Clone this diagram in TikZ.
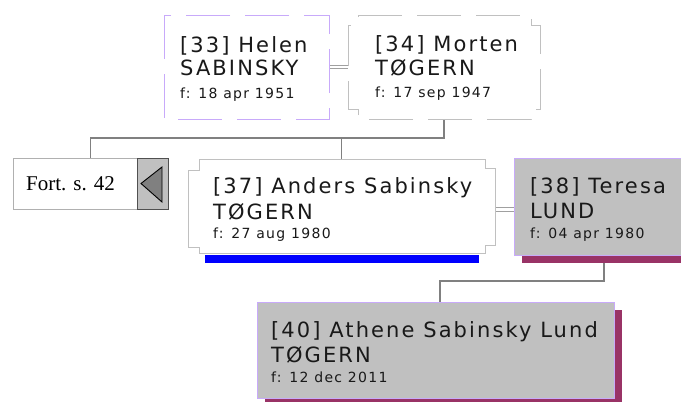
\documentclass[tikz,border=0pt]{standalone}
\usepackage{fontspec}
\setmainfont{Liberation Serif}
\newfontfamily\boxfont[LetterSpace=10]{DejaVu Sans}
\newfontfamily\smallfont[LetterSpace=9.5]{DejaVu Sans}
\usetikzlibrary{calc}
\definecolor{lav}{RGB}{200,170,250}
\definecolor{lgray}{RGB}{192,192,192}
\definecolor{gfill}{RGB}{192,192,192}
\definecolor{connc}{RGB}{128,128,128}
\definecolor{dblc}{RGB}{160,160,160}
\definecolor{maroon}{RGB}{153,51,102}
\definecolor{fortb}{RGB}{176,176,176}
\definecolor{darkb}{RGB}{80,80,80}
\definecolor{tri}{RGB}{128,128,128}
\definecolor{txt}{RGB}{25,25,25}
\begin{document}
\begin{tikzpicture}[x=1pt,y=-1pt,
  boxn/.style={rectangle,inner sep=0pt,outer sep=0pt,anchor=north west},
  bigt/.style={anchor=base west,inner sep=0pt,font=\fontsize{21}{22}\boxfont,text=txt},
  smallt/.style={anchor=base west,inner sep=0pt,font=\fontsize{14}{15}\smallfont,text=txt},
  conn/.style={draw=connc,line width=1.3pt},
  dbl/.style={draw=dblc,double=white,double distance=2.6pt,line width=1.1pt},
  dashbox/.style={line width=1pt,dash pattern=on 44pt off 15pt,fill=white}
]
\useasboundingbox (0,0) rectangle (681,402);
\clip (0,0) rectangle (681,402);
% box placeholders
\node[boxn,minimum width=165pt,minimum height=104pt] (b33) at (164,15) {};
\node[boxn,minimum width=192pt,minimum height=104pt] (b34) at (348,15) {};
\node[boxn,minimum width=307pt,minimum height=94pt] (b37) at (188,159) {};
\node[boxn,minimum width=180pt,minimum height=97pt] (b38) at (514,158) {};
\node[boxn,minimum width=357pt,minimum height=96pt] (b40) at (257,302) {};
\node[boxn,minimum width=155pt,minimum height=51pt] (fort) at (13,158) {};
\node[boxn,minimum width=31pt,minimum height=51pt] (arr) at (137,158) {};
\coordinate (c40) at ($(b40.north west)+(183,0)$);
\coordinate (j1) at ($(b34.south)+(0,19)$);
\coordinate (j2) at ($(b38.south)+(0,26)$);
% connectors
\draw[conn] (b34.south) -- (j1) -| (fort.north);
\draw[conn] (j1 -| b37.north) -- (b37.north);
\draw[conn] (b38.south) -- (j2) -| (c40);
\draw[dbl] (b33.east) -- (b34.west);
\draw[dbl] ($(b37.east)+(0,3.5)$) -- ($(b38.west)+(0,3)$);
% shadows and bars
\fill[maroon] ($(b38.north west)+(8,8)$) rectangle ($(b38.south east)+(8,8)$);
\fill[maroon] ($(b40.north west)+(8,8)$) rectangle ($(b40.south east)+(8,8)$);
\fill[blue] ($(b37.south west)+(17,2)$) rectangle ($(b37.south east)+(-16,10)$);
% boxes
\draw[lav,dashbox] (b33.north west) rectangle (b33.south east);
\draw[lgray,dashbox]
  ($(b34.north west)+(10,0)$) -- ($(b34.north east)+(-9,0)$) -- ($(b34.north east)+(-9,10)$) --
  ($(b34.north east)+(0,10)$) -- ($(b34.south east)+(0,-10)$) -- ($(b34.south east)+(-9,-10)$) --
  ($(b34.south east)+(-9,0)$) -- ($(b34.south west)+(10,0)$) -- ($(b34.south west)+(10,-10)$) --
  ($(b34.south west)+(0,-10)$) -- ($(b34.north west)+(0,10)$) -- ($(b34.north west)+(10,10)$) -- cycle;
\draw[lgray,line width=1pt,fill=white]
  ($(b37.north west)+(11,0)$) -- ($(b37.north east)+(-10,0)$) -- ($(b37.north east)+(-10,9)$) --
  ($(b37.north east)+(0,9)$) -- ($(b37.south east)+(0,-8)$) -- ($(b37.south east)+(-10,-8)$) --
  ($(b37.south east)+(-10,0)$) -- ($(b37.south west)+(11,0)$) -- ($(b37.south west)+(11,-6)$) --
  ($(b37.south west)+(0,-6)$) -- ($(b37.north west)+(0,11)$) -- ($(b37.north west)+(11,11)$) -- cycle;
\draw[lav,line width=1pt,fill=gfill] (b38.north west) rectangle (b38.south east);
\draw[lav,line width=1pt,fill=gfill] (b40.north west) rectangle (b40.south east);
\draw[fortb,line width=1pt,fill=white] (fort.north west) rectangle (fort.south east);
\draw[darkb,line width=1pt,fill=gfill] (arr.north west) rectangle (arr.south east);
\filldraw[fill=tri,draw=black,line width=0.9pt] ($(arr.west)+(4,0)$) -- ($(arr.north east)+(-6,9)$) -- ($(arr.south east)+(-6,-7)$) -- cycle;
% texts
\node[anchor=base,inner sep=0pt,font=\fontsize{21}{22}\selectfont] (ft) at (70.5,190) {Fort. s. 42};
\node[bigt] (t33a) at (180,52) {[33] Helen};
\node[bigt] (t33b) at (180,75) {SABINSKY};
\node[smallt] (t33c) at (180,98) {f: 18 apr 1951};
\node[bigt] (t34a) at (375,51) {[34] Morten};
\node[bigt] (t34b) at (375,75) {TØGERN};
\node[smallt] (t34c) at (375,97) {f: 17 sep 1947};
\node[bigt] (t37a) at (213,193) {[37] Anders Sabinsky};
\node[bigt] (t37b) at (213,219) {TØGERN};
\node[smallt] (t37c) at (213,238) {f: 27 aug 1980};
\node[bigt] (t38a) at (530,193) {[38] Teresa};
\node[bigt] (t38b) at (530,218) {LUND};
\node[smallt] (t38c) at (530,238) {f: 04 apr 1980};
\node[bigt] (t40a) at (271,337) {[40] Athene Sabinsky Lund};
\node[bigt] (t40b) at (271,362) {TØGERN};
\node[smallt] (t40c) at (271,382) {f: 12 dec 2011};
\end{tikzpicture}
\end{document}
